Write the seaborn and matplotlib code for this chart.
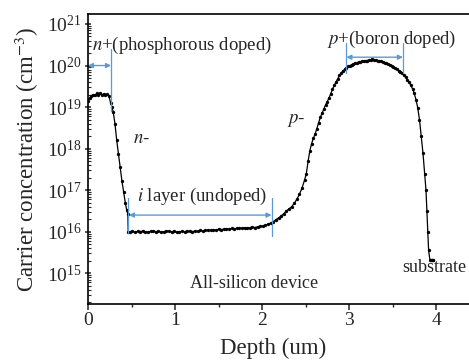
import numpy as np
import pandas as pd
import seaborn as sns
import matplotlib
matplotlib.use("Agg")
import matplotlib.pyplot as plt
from matplotlib.ticker import LogLocator, NullFormatter, MultipleLocator

# ---------------- data ----------------
# n+ region
depth_nplus = [0.00, 0.02, 0.04, 0.06, 0.08, 0.10, 0.12, 0.14, 0.16, 0.18, 0.20, 0.22, 0.24, 0.26]
logc_nplus = [19.15, 19.22, 19.27, 19.30, 19.28, 19.33, 19.30, 19.34, 19.29, 19.32, 19.28, 19.31, 19.27, 19.10]
# n- drop
depth_nminus = [0.275, 0.29, 0.31, 0.33, 0.35, 0.37, 0.39, 0.41, 0.43, 0.445, 0.458, 0.462]
logc_nminus = [19.00, 18.88, 18.60, 18.20, 17.87, 17.55, 17.22, 16.95, 16.68, 16.52, 16.42, 16.00]
# i layer
depth_i = [0.48, 0.51, 0.54, 0.57, 0.60, 0.63, 0.66, 0.69, 0.72, 0.75, 0.78, 0.81, 0.84, 0.87,
           0.90, 0.93, 0.96, 0.99, 1.02, 1.05, 1.08, 1.11, 1.14, 1.17, 1.20, 1.23, 1.26, 1.29,
           1.32, 1.35, 1.38, 1.41, 1.44, 1.47, 1.50, 1.53, 1.56, 1.59, 1.62, 1.65, 1.68, 1.71,
           1.74, 1.77, 1.80, 1.83, 1.86, 1.89, 1.92, 1.95, 1.98, 2.01, 2.04, 2.07, 2.10]
logc_i = [16.00, 16.01, 15.99, 16.01, 16.00, 16.02, 16.00, 15.99, 16.01, 16.02, 16.00, 16.01, 15.99, 16.00,
          16.02, 16.01, 16.00, 16.01, 15.99, 16.00, 16.01, 16.00, 16.02, 16.01, 16.00, 16.02, 16.01, 16.03,
          16.02, 16.03, 16.04, 16.03, 16.05, 16.04, 16.06, 16.05, 16.06, 16.07, 16.06, 16.08, 16.07, 16.08,
          16.09, 16.08, 16.10, 16.09, 16.10, 16.11, 16.10, 16.12, 16.13, 16.14, 16.16, 16.18, 16.21]
# p- rise
depth_pminus = [2.13, 2.16, 2.19, 2.22, 2.25, 2.28, 2.31, 2.34, 2.37, 2.40, 2.43, 2.46, 2.49, 2.51,
                2.53, 2.55, 2.57, 2.59, 2.61, 2.63, 2.65, 2.67, 2.69, 2.71, 2.73, 2.75, 2.77, 2.79,
                2.81, 2.83, 2.85, 2.87, 2.89, 2.91, 2.93, 2.95, 2.97]
logc_pminus = [16.24, 16.29, 16.33, 16.38, 16.43, 16.50, 16.55, 16.60, 16.68, 16.78, 16.90, 17.05, 17.25, 17.40,
               17.70, 17.95, 18.12, 18.25, 18.35, 18.48, 18.62, 18.75, 18.85, 18.95, 19.05, 19.13, 19.22, 19.32,
               19.43, 19.52, 19.60, 19.68, 19.76, 19.82, 19.87, 19.91, 19.95]
# p+ peak and fall to substrate
depth_pplus = [2.99, 3.01, 3.03, 3.05, 3.07, 3.09, 3.11, 3.13, 3.15, 3.17, 3.19, 3.21, 3.23, 3.25,
               3.27, 3.29, 3.31, 3.33, 3.35, 3.37, 3.39, 3.41, 3.43, 3.45, 3.47, 3.49, 3.51, 3.53,
               3.55, 3.57, 3.59, 3.61, 3.63, 3.65, 3.67, 3.69, 3.71, 3.73, 3.75, 3.77, 3.79, 3.81,
               3.83, 3.85, 3.87, 3.885, 3.895, 3.905, 3.915, 3.93, 3.94, 3.95, 3.96, 3.97]
logc_pplus = [19.98, 20.00, 20.02, 20.04, 20.06, 20.07, 20.08, 20.09, 20.10, 20.11, 20.12, 20.12, 20.13, 20.14,
              20.15, 20.14, 20.13, 20.12, 20.11, 20.10, 20.09, 20.07, 20.06, 20.04, 20.02, 20.00, 19.97, 19.94,
              19.91, 19.88, 19.85, 19.81, 19.77, 19.72, 19.66, 19.60, 19.52, 19.44, 19.33, 19.18, 18.98, 18.70,
              18.30, 17.90, 17.40, 17.00, 16.50, 16.00, 15.55, 15.32, 15.32, 15.32, 15.32, 15.32]

xticks = [0, 1, 2, 3, 4]
xlabel = "Depth (um)"
ylabel = r"Carrier concentration (cm$^{-3}$)"

depth = depth_nplus + depth_nminus + depth_i + depth_pminus + depth_pplus
logc = logc_nplus + logc_nminus + logc_i + logc_pminus + logc_pplus
df = pd.DataFrame({"depth": depth, "conc": 10.0 ** np.array(logc)})

# ---------------- style ----------------
sns.set_style("ticks")
plt.rcParams["font.family"] = ["Liberation Serif", "DejaVu Serif"]
plt.rcParams["mathtext.fontset"] = "stix"
plt.rcParams["axes.linewidth"] = 1.2

fig = plt.figure(figsize=(4.69, 3.61), dpi=100)
ax = fig.add_axes([88 / 469, 1 - 304 / 361, 4.5 * 87 / 469, 290 / 361])

sns.lineplot(data=df, x="depth", y="conc", ax=ax, color="black", linewidth=0.9,
             marker="o", markersize=2.4, markeredgewidth=0, sort=False, estimator=None)

ax.set_yscale("log")
ax.set_xlim(0, 4.5)
ax.set_ylim(10 ** 14.26, 10 ** 21.24)
ax.set_xticks(xticks)
ax.xaxis.set_minor_locator(MultipleLocator(0.5))
ax.yaxis.set_major_locator(LogLocator(base=10, numticks=20))
ax.yaxis.set_minor_locator(LogLocator(base=10, subs=np.arange(2, 10), numticks=50))
ax.yaxis.set_minor_formatter(NullFormatter())

ax.tick_params(axis="x", which="major", direction="out", length=4, width=1.1, labelsize=14, pad=2)
ax.tick_params(axis="x", which="minor", direction="out", length=2.5, width=1.0)
ax.tick_params(axis="y", which="major", direction="inout", length=5, width=1.1, labelsize=14, pad=2)
ax.tick_params(axis="y", which="minor", direction="in", length=2.5, width=0.8)
for s in ["left", "bottom", "top"]:
    ax.spines[s].set_visible(True)
    ax.spines[s].set_color("black")
ax.spines["right"].set_visible(False)

ax.set_xlabel(xlabel, fontsize=16.5)
ax.xaxis.set_label_coords((273 - 88) / 391.5, -0.115)
ax.set_ylabel(ylabel, fontsize=16.5, labelpad=4)

# ---------------- annotations ----------------
blue = "#5B9BD5"
arrow_kw = dict(arrowstyle="<|-|>", color=blue, lw=1.0, mutation_scale=7, shrinkA=0, shrinkB=0)

# n+ region
ax.annotate("", xy=(0.0, 1e20), xytext=(0.265, 1e20), arrowprops=arrow_kw)
ax.plot([0.265, 0.265], [10 ** 18.9, 10 ** 20.4], color=blue, lw=0.9)
# i layer
ax.annotate("", xy=(0.47, 10 ** 16.4), xytext=(2.11, 10 ** 16.4), arrowprops=arrow_kw)
ax.plot([0.46, 0.46], [10 ** 15.98, 10 ** 16.8], color=blue, lw=0.9)
ax.plot([2.115, 2.115], [10 ** 15.9, 10 ** 16.8], color=blue, lw=0.9)
# p+ region
ax.annotate("", xy=(2.97, 10 ** 20.2), xytext=(3.62, 10 ** 20.2), arrowprops=arrow_kw)
ax.plot([2.97, 2.97], [10 ** 19.83, 10 ** 20.53], color=blue, lw=0.9)
ax.plot([3.62, 3.62], [10 ** 19.83, 10 ** 20.53], color=blue, lw=0.9)

fs = 13.5
ax.text(0.05, 10 ** 20.48, r"$n$+(phosphorous doped)", fontsize=fs, va="center", ha="left")
ax.text(0.52, 10 ** 18.25, r"$n$-", fontsize=fs, va="center", ha="left")
ax.text(0.56, 10 ** 16.86, r"$i$ layer (undoped)", fontsize=fs, va="center", ha="left")
ax.text(2.29, 10 ** 18.67, r"$p$-", fontsize=fs, va="center", ha="left")
ax.text(2.75, 10 ** 20.62, r"$p$+(boron doped)", fontsize=fs, va="center", ha="left")
ax.text(1.17, 10 ** 14.76, "All-silicon device", fontsize=13, va="center", ha="left")
ax.text(3.61, 10 ** 15.14, "substrate", fontsize=13, va="center", ha="left")

fig.savefig("out.png", dpi=100)
